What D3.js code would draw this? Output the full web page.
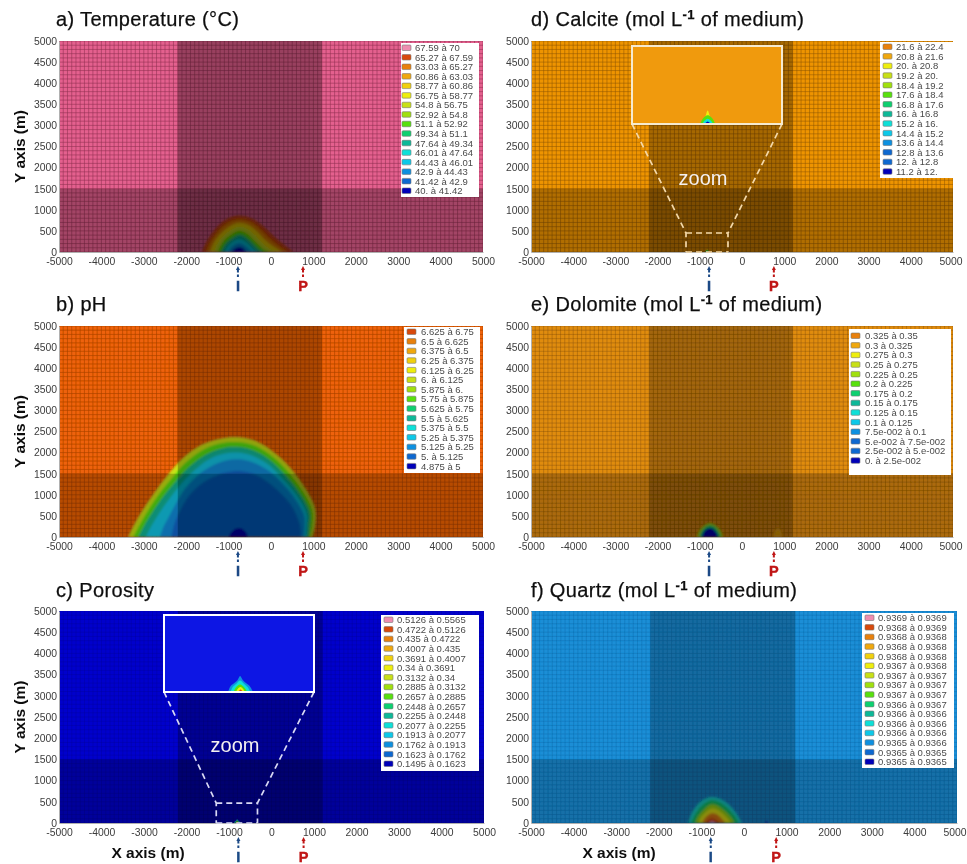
<!DOCTYPE html>
<html><head><meta charset="utf-8">
<script src="https://cdn.jsdelivr.net/npm/d3@7/dist/d3.min.js"></script>
<style>html,body{margin:0;background:#fff}svg{display:block}</style></head><body>
<svg id="c" width="967" height="864"></svg>
<script>
// ---------- shared values ----------
const xTicks=[-5000,-4000,-3000,-2000,-1000,0,1000,2000,3000,4000,5000];
const yTicks=[0,500,1000,1500,2000,2500,3000,3500,4000,4500,5000];
const injectorX=-780, producerX=755;
const refinedX=[-2200,1200], refinedYTop=1500;
const levelColors=["#ee8db0","#d84a08","#e88008","#f0a810","#f0d010","#eeee10","#c8e018","#a0e010","#58e010","#10d070","#10b898","#10e0d8","#10c8e8","#1090e0","#1068d0","#0000b8"];

// ---------- legends ----------
const legendTemp=["67.59 à 70","65.27 à 67.59","63.03 à 65.27","60.86 à 63.03","58.77 à 60.86","56.75 à 58.77","54.8 à 56.75","52.92 à 54.8","51.1 à 52.92","49.34 à 51.1","47.64 à 49.34","46.01 à 47.64","44.43 à 46.01","42.9 à 44.43","41.42 à 42.9","40. à 41.42"];
const legendPH=["6.625 à 6.75","6.5 à 6.625","6.375 à 6.5","6.25 à 6.375","6.125 à 6.25","6. à 6.125","5.875 à 6.","5.75 à 5.875","5.625 à 5.75","5.5 à 5.625","5.375 à 5.5","5.25 à 5.375","5.125 à 5.25","5. à 5.125","4.875 à 5"];
const legendPoro=["0.5126 à 0.5565","0.4722 à 0.5126","0.435 à 0.4722","0.4007 à 0.435","0.3691 à 0.4007","0.34 à 0.3691","0.3132 à 0.34","0.2885 à 0.3132","0.2657 à 0.2885","0.2448 à 0.2657","0.2255 à 0.2448","0.2077 à 0.2255","0.1913 à 0.2077","0.1762 à 0.1913","0.1623 à 0.1762","0.1495 à 0.1623"];
const legendCalc=["21.6 à 22.4","20.8 à 21.6","20. à 20.8","19.2 à 20.","18.4 à 19.2","17.6 à 18.4","16.8 à 17.6","16. à 16.8","15.2 à 16.","14.4 à 15.2","13.6 à 14.4","12.8 à 13.6","12. à 12.8","11.2 à 12."];
const legendDolo=["0.325 à 0.35","0.3 à 0.325","0.275 à 0.3","0.25 à 0.275","0.225 à 0.25","0.2 à 0.225","0.175 à 0.2","0.15 à 0.175","0.125 à 0.15","0.1 à 0.125","7.5e-002 à 0.1","5.e-002 à 7.5e-002","2.5e-002 à 5.e-002","0. à 2.5e-002"];
const legendQtz=["0.9369 à 0.9369","0.9368 à 0.9369","0.9368 à 0.9368","0.9368 à 0.9368","0.9368 à 0.9368","0.9367 à 0.9368","0.9367 à 0.9367","0.9367 à 0.9367","0.9367 à 0.9367","0.9366 à 0.9367","0.9366 à 0.9366","0.9366 à 0.9366","0.9366 à 0.9366","0.9365 à 0.9366","0.9365 à 0.9365","0.9365 à 0.9365"];
const levelsFor14=[2,3,5,6,7,8,9,10,11,12,13,14,14,15];
const levelsFor15=[1,2,3,4,5,6,7,8,9,10,11,12,13,14,15];
const levelsFor16=d3.range(16);

// ---------- plume contours: [level, [[x m, y m],...]] ----------
const plumeTemp=[
[1,[[-1620,0],[-1540,200],[-1380,450],[-1180,680],[-950,820],[-700,855],[-450,790],[-200,620],[50,380],[300,170],[520,0]]],
[2,[[-1530,0],[-1450,200],[-1300,430],[-1120,620],[-920,740],[-700,775],[-480,710],[-260,550],[-40,330],[190,140],[390,0]]],
[4,[[-1440,0],[-1370,180],[-1230,390],[-1060,550],[-880,660],[-700,690],[-510,630],[-320,480],[-130,280],[90,110],[270,0]]],
[6,[[-1340,0],[-1280,160],[-1160,340],[-1000,480],[-850,570],[-710,595],[-550,540],[-390,410],[-220,230],[-50,80],[120,0]]],
[8,[[-1250,0],[-1190,150],[-1090,290],[-960,400],[-830,480],[-720,500],[-590,450],[-460,340],[-310,190],[-170,60],[-30,0]]],
[10,[[-1170,0],[-1110,130],[-1020,240],[-900,330],[-800,390],[-720,400],[-620,360],[-510,270],[-400,160],[-280,50],[-170,0]]],
[12,[[-1080,0],[-1030,110],[-950,200],[-850,270],[-740,300],[-640,265],[-540,190],[-440,90],[-330,0]]],
[13,[[-1000,0],[-950,90],[-870,160],[-760,205],[-650,165],[-550,90],[-470,0]]],
[15,[[-920,0],[-880,60],[-810,100],[-750,110],[-680,100],[-620,50],[-590,0]]]];
const plumePH=[
[6,[[-3370,0],[-3250,250],[-3050,600],[-2750,1050],[-2450,1450],[-2100,1850],[-1650,2180],[-1200,2330],[-820,2370],[-400,2290],[0,2060],[400,1700],[750,1250],[1000,800],[1060,570],[1040,250],[980,0]]],
[8,[[-3250,0],[-3120,250],[-2920,600],[-2640,1020],[-2350,1380],[-2020,1760],[-1600,2070],[-1180,2220],[-820,2250],[-420,2180],[-30,1960],[340,1620],[680,1190],[930,760],[985,550],[970,250],[920,0]]],
[10,[[-3130,0],[-3000,250],[-2800,580],[-2540,960],[-2260,1300],[-1940,1650],[-1540,1950],[-1150,2100],[-820,2130],[-440,2060],[-60,1850],[280,1530],[610,1130],[860,720],[915,520],[900,250],[880,0]]],
[12,[[-2950,0],[-2830,240],[-2650,540],[-2400,900],[-2150,1220],[-1850,1540],[-1480,1830],[-1120,1970],[-800,2000],[-450,1930],[-80,1730],[230,1430],[550,1060],[790,680],[850,500],[840,250],[830,0]]],
[13,[[-2620,0],[-2540,230],[-2400,500],[-2240,800],[-2040,1130],[-1750,1440],[-1400,1680],[-1060,1810],[-760,1840],[-440,1770],[-70,1580],[220,1320],[500,1000],[730,630],[790,450],[790,230],[780,0]]],
[14,[[-2350,0],[-2280,300],[-2140,640],[-1920,1000],[-1620,1280],[-1290,1460],[-1000,1540],[-720,1560],[-400,1490],[-80,1310],[220,1050],[470,770],[640,430],[700,200],[700,0]]],
[15,[[-1000,0],[-950,100],[-850,190],[-760,215],[-670,190],[-580,100],[-540,0]]]];
const plumePoro=[
[13,[[-885,0],[-870,35],[-845,55],[-825,72],[-808,98],[-790,72],[-770,55],[-745,35],[-725,0]]],
[11,[[-870,0],[-855,30],[-830,52],[-808,70],[-785,52],[-760,30],[-742,0]]],
[8,[[-850,0],[-838,25],[-808,46],[-778,25],[-762,0]]],
[5,[[-835,0],[-822,20],[-806,30],[-790,20],[-777,0]]],
[1,[[-820,0],[-805,16],[-790,0]]]];
const plumeCalc=[
[5,[[-850,0],[-840,40],[-825,78],[-810,40],[-800,0]]],
[8,[[-875,0],[-862,25],[-845,42],[-825,50],[-805,42],[-788,25],[-775,0]]],
[11,[[-860,0],[-848,18],[-825,30],[-802,18],[-790,0]]],
[15,[[-845,0],[-825,14],[-805,0]]]];
const plumeDolo=[
[3,[[750,0],[780,150],[850,210],[920,150],[950,0]]],
[7,[[-1070,0],[-1020,140],[-900,270],[-760,330],[-620,270],[-500,140],[-450,0]]],
[9,[[-1010,0],[-960,130],[-860,240],[-760,280],[-650,240],[-550,120],[-500,0]]],
[15,[[-960,0],[-910,120],[-840,190],[-760,215],[-680,190],[-610,110],[-560,0]]]];
const plumeQtz=[
[15,[[490,0],[530,40],[570,0]]],
[11,[[-1310,0],[-1230,230],[-1060,470],[-880,590],[-760,615],[-600,590],[-370,450],[-170,220],[-50,0]]],
[9,[[-1240,0],[-1150,200],[-1000,400],[-850,510],[-760,535],[-610,510],[-410,380],[-230,180],[-120,0]]],
[7,[[-1150,0],[-1070,170],[-940,320],[-820,420],[-750,440],[-630,415],[-470,300],[-310,140],[-220,0]]],
[5,[[-1070,0],[-1000,150],[-890,260],[-760,340],[-640,320],[-510,230],[-390,110],[-310,0]]],
[2,[[-980,0],[-920,110],[-840,190],[-750,230],[-650,210],[-540,120],[-430,0]]],
[1,[[-900,0],[-860,60],[-760,120],[-660,80],[-570,0]]],
[0,[[-820,0],[-750,45],[-670,0]]]];

// ---------- panel definitions (layout + styling separate from the values above) ----------
const panels=[
{t:["a) Temperature  (°C)"],tx:56,ty:26,x0:59,x1:483,y0:252,y1:41,bg:"#e4608e",gl:"#8f3050",gla:.55,dk:.33,soft:1,plume:plumeTemp,leg:legendTemp,lv:levelsFor16,box:[401,43,78,154],sw:402,tx2:415,ly:48,ls:9.53,yl:1},
{t:["b) pH"],tx:56,ty:311,x0:59,x1:483,y0:537,y1:326,bg:"#ee6208",gl:"#9c3c00",gla:.5,dk:.27,soft:1,plume:plumePH,leg:legendPH,lv:levelsFor15,box:[404,327,76,146],sw:407,tx2:421,ly:332,ls:9.6,yl:1},
{t:["c) Porosity"],tx:56,ty:597,x0:59,x1:484,y0:823,y1:611,bg:"#0000cc",gl:"#000090",gla:.3,dk:.28,soft:0,plume:plumePoro,leg:legendPoro,lv:levelsFor16,box:[381,615,98,156],sw:384,tx2:397,ly:620,ls:9.6,yl:1,xl:148,
 inset:{r:[164,615,150,77],fill:"#0a18e4",dom:[-1300,-330,470],zoomX:235,zoomY:752,stroke:"#ffffff",dash:"#d8d8f4"}},
{t:["d) Calcite  (mol L","-1"," of medium)"],tx:531,ty:26,x0:531,x1:953,y0:252,y1:41,bg:"#ee9400",gl:"#8c5400",gla:.5,dk:.3,soft:0,plume:plumeCalc,leg:legendCalc,lv:levelsFor14,box:[880,42,73,136],sw:883,tx2:896,ly:47,ls:9.6,
 inset:{r:[632,46,150,78],fill:"#f09a08",dom:[-1327,-332,450],zoomX:703,zoomY:185,stroke:"#f6ead0",dash:"#f4d8a8"}},
{t:["e) Dolomite  (mol L","-1"," of medium)"],tx:531,ty:311,x0:531,x1:953,y0:537,y1:326,bg:"#e08c10",gl:"#8c5400",gla:.45,dk:.27,soft:1,plume:plumeDolo,leg:legendDolo,lv:levelsFor14,box:[849,329,102,146],sw:851,tx2:865,ly:336,ls:9.6},
{t:["f) Quartz  (mol L","-1"," of medium)"],tx:531,ty:597,x0:531,x1:957,y0:823,y1:611,bg:"#1a8ed6",gl:"#0a64a4",gla:.35,dk:.25,soft:1,plume:plumeQtz,leg:legendQtz,lv:levelsFor16,box:[862,613,92,155],sw:865,tx2:878,ly:618,ls:9.6,xl:619}
];

const svg=d3.select("#c");
const defs=svg.append("defs");
const blur=(id,s)=>defs.append("filter").attr("id",id).attr("filterUnits","userSpaceOnUse").attr("x",0).attr("y",0).attr("width",967).attr("height",864).append("feGaussianBlur").attr("stdDeviation",s);
blur("soft",.5); blur("plume",1.1);
const root=svg.append("g").attr("filter","url(#soft)");
const FONT="'Liberation Sans',Arial,sans-serif";
const ringLine=(x,y)=>d3.line().x(d=>x(d[0])).y(d=>y(d[1])).curve(d3.curveCatmullRom.alpha(.5));
const gridXs=d3.range(-5000,5001,100), gridYs=d3.range(0,5001,100);

panels.forEach((p,i)=>{
  const g=root.append("g");
  const x=d3.scaleLinear().domain([-5000,5000]).range([p.x0,p.x1]);
  const y=d3.scaleLinear().domain([0,5000]).range([p.y0,p.y1]);
  defs.append("clipPath").attr("id","cp"+i).append("rect").attr("x",p.x0).attr("y",p.y1).attr("width",p.x1-p.x0).attr("height",p.y0-p.y1);
  const pg=g.append("g").attr("clip-path",`url(#cp${i})`);
  pg.append("rect").attr("x",p.x0).attr("y",p.y1).attr("width",p.x1-p.x0).attr("height",p.y0-p.y1).attr("fill",p.bg);
  const rings=(sel,xs,ys)=>sel.selectAll("path.r").data(p.plume).join("path").attr("class","r")
     .attr("fill",d=>levelColors[d[0]]).attr("d",d=>ringLine(xs,ys)(d[1])+"Z");
  pg.append("g").selectAll("line").data(gridXs).join("line").attr("x1",x).attr("x2",x).attr("y1",p.y0).attr("y2",p.y1).attr("stroke",p.gl).attr("stroke-opacity",p.gla);
  pg.append("g").selectAll("line").data(gridYs).join("line").attr("y1",y).attr("y2",y).attr("x1",p.x0).attr("x2",p.x1).attr("stroke",p.gl).attr("stroke-opacity",p.gla);
  const rg=pg.append("g"); if(p.soft) rg.attr("filter","url(#plume)");
  rings(rg,x,y);
  // refined-mesh zones appear darker
  pg.append("rect").attr("x",x(refinedX[0])).attr("width",x(refinedX[1])-x(refinedX[0])).attr("y",p.y1).attr("height",p.y0-p.y1).attr("fill","#000").attr("fill-opacity",p.dk);
  pg.append("rect").attr("x",p.x0).attr("width",p.x1-p.x0).attr("y",y(refinedYTop)).attr("height",y(0)-y(refinedYTop)).attr("fill","#000").attr("fill-opacity",p.dk*.85);

  // axes
  const ax=g.append("g").attr("transform",`translate(0,${p.y0})`).call(d3.axisBottom(x).tickValues(xTicks).tickSize(0).tickPadding(6).tickFormat(d=>String(d)));
  const ay=g.append("g").attr("transform",`translate(${p.x0},0)`).call(d3.axisLeft(y).tickValues(yTicks).tickSize(0).tickPadding(2).tickFormat(d=>String(d)));
  [ax,ay].forEach(a=>{a.select(".domain").attr("stroke","#b0b0b0");a.selectAll("text").attr("font-family",FONT).attr("font-size",10.4).attr("fill","#3c3c3c")});
  ax.selectAll("text").filter(d=>d===5000 && p.x1+15>967).attr("text-anchor","end").attr("x",9);

  // inset zoom
  if(p.inset){
    const n=p.inset,[rx,ry,rw,rh]=n.r;
    const ix=d3.scaleLinear().domain([n.dom[0],n.dom[1]]).range([rx,rx+rw]);
    const iy=d3.scaleLinear().domain([0,n.dom[2]]).range([ry+rh,ry]);
    const bx0=x(n.dom[0]),bx1=x(n.dom[1]),by=y(n.dom[2]);
    const dash=g.append("g").attr("fill","none").attr("stroke",n.dash).attr("stroke-width",1.7).attr("stroke-dasharray","6 4");
    dash.append("path").attr("d",`M${rx},${ry+rh}L${bx0},${by}L${bx0},${p.y0}`);
    dash.append("path").attr("d",`M${rx+rw},${ry+rh}L${bx1},${by}L${bx1},${p.y0}`);
    dash.append("path").attr("d",`M${bx0},${by}L${bx1},${by}M${bx0},${p.y0}L${bx1},${p.y0}`);
    const ig=g.append("g");
    defs.append("clipPath").attr("id","ci"+i).append("rect").attr("x",rx).attr("y",ry).attr("width",rw).attr("height",rh);
    ig.append("rect").attr("x",rx).attr("y",ry).attr("width",rw).attr("height",rh).attr("fill",n.fill);
    rings(ig.append("g").attr("clip-path",`url(#ci${i})`),ix,iy);
    ig.append("rect").attr("x",rx).attr("y",ry).attr("width",rw).attr("height",rh).attr("fill","none").attr("stroke",n.stroke).attr("stroke-width",2);
    g.append("text").attr("x",n.zoomX).attr("y",n.zoomY).attr("text-anchor","middle").attr("font-family",FONT).attr("font-size",20).attr("fill","#f4f0f0").text("zoom");
  }

  // legend
  const [bx,by,bw,bh]=p.box;
  const lg=g.append("g");
  lg.append("rect").attr("x",bx).attr("y",by).attr("width",bw).attr("height",bh).attr("fill","#fff");
  const row=lg.selectAll("g").data(p.leg).join("g").attr("transform",(d,k)=>`translate(0,${p.ly+k*p.ls})`);
  row.append("rect").attr("x",p.sw).attr("y",-3).attr("width",9).attr("height",5.5).attr("rx",1).attr("fill",(d,k)=>levelColors[p.lv[k]]).attr("stroke","#777").attr("stroke-width",.6);
  row.append("text").attr("x",p.tx2).attr("y",3.2).attr("font-family",FONT).attr("font-size",9.5).attr("fill","#4a4a4a").text(d=>d);

  // title
  const tt=g.append("text").attr("x",p.tx).attr("y",p.ty).attr("font-family",FONT).attr("font-size",20).attr("letter-spacing",.35).attr("fill","#111").attr("stroke","#111").attr("stroke-width",.25);
  tt.append("tspan").text(p.t[0]);
  if(p.t[1]){tt.append("tspan").attr("dy",-7).attr("font-size",13).attr("font-weight","bold").text(p.t[1]);tt.append("tspan").attr("dy",7).text(p.t[2]);}

  if(p.yl) g.append("text").attr("transform",`translate(25,${(p.y0+p.y1)/2}) rotate(-90)`).attr("text-anchor","middle").attr("font-family",FONT).attr("font-weight","bold").attr("font-size",15.5).attr("fill","#111").text("Y axis (m)");
  if(p.xl) g.append("text").attr("x",p.xl).attr("y",p.y0+35).attr("text-anchor","middle").attr("font-family",FONT).attr("font-weight","bold").attr("font-size",15.5).attr("fill","#111").text("X axis (m)");

  // wells
  [[injectorX,"I","#1c4a86"],[producerX,"P","#c01414"]].forEach(([v,lab,col])=>{
    const w=g.append("g").attr("transform",`translate(${x(v)},${p.y0})`);
    w.append("path").attr("d","M0,14L-2,18L2,18Z").attr("fill",col);
    w.append("line").attr("y1",18).attr("y2",26).attr("stroke",col).attr("stroke-width",2).attr("stroke-dasharray","2.5 2");
    w.append("text").attr("y",38.5).attr("text-anchor","middle").attr("font-family",FONT).attr("font-weight","bold").attr("font-size",14.5).attr("fill",col).attr("stroke",col).attr("stroke-width",.4).text(lab);
  });
});
</script></body></html>
